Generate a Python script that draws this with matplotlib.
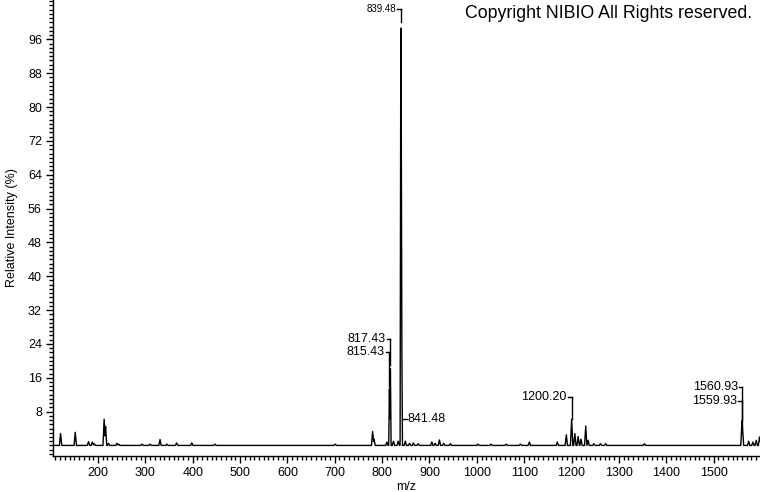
import numpy as np
import matplotlib
matplotlib.use("Agg")
import matplotlib.pyplot as plt
from matplotlib.ticker import MultipleLocator, FixedLocator

plt.rcParams['font.family'] = ['Liberation Sans', 'DejaVu Sans']

# peak list: m/z and relative intensity (%)
peak_mz = [121, 152, 180, 188, 192, 213, 216, 222, 240, 244, 293, 310, 331, 345,
           366, 398, 447, 701, 780, 783, 810, 815.43, 817.43, 824, 834, 839.48,
           840.48, 841.48, 849, 858, 866, 876, 905, 912, 921, 930, 944, 1002,
           1030, 1062, 1092, 1111, 1170, 1189, 1200.20, 1207, 1214, 1220, 1230,
           1235, 1247, 1261, 1272, 1354, 1559.93, 1560.93, 1574, 1583, 1590, 1597]
peak_int = [2.8, 3.1, 0.9, 0.8, 0.4, 6.2, 4.5, 0.5, 0.5, 0.3, 0.3, 0.3, 1.4, 0.3,
            0.6, 0.6, 0.3, 0.3, 3.3, 1.5, 0.8, 14, 19, 1.0, 1.0, 100,
            76, 27, 1.0, 0.5, 0.6, 0.4, 0.8, 0.5, 1.3, 0.5, 0.4, 0.3,
            0.3, 0.3, 0.3, 0.8, 0.8, 2.5, 6.3, 2.8, 2.1, 1.5, 4.6,
            1.2, 0.4, 0.4, 0.4, 0.4, 6.0, 4.5, 1.0, 0.8, 1.2, 2.0]

# labelled peaks: m/z, label text, label height, side of the label
label_mz = [839.48, 817.43, 815.43, 841.48, 1200.20, 1560.93, 1559.93]
label_txt = ['839.48', '817.43', '815.43', '841.48', '1200.20', '1560.93', '1559.93']
label_y = [103.2, 25.2, 22.1, 6.2, 11.5, 13.9, 10.5]
label_side = ['left', 'left', 'left', 'right', 'left', 'left', 'left']

# profile drawn as narrow triangles around each peak
grid = np.arange(105, 1600, 0.25)
prof = np.zeros_like(grid)
for m, h in zip(peak_mz, peak_int):
    w = 1.5 if h > 10 else 2.5
    prof = np.maximum(prof, h * np.clip(1 - np.abs(grid - m) / w, 0, None))

fig = plt.figure(figsize=(7.6, 4.92), dpi=100)
ax = fig.add_axes([53 / 760, 36 / 492, 707 / 760, 456 / 492])
ax.plot(grid, prof, color='black', lw=1.0)

ax.set_xlim(105, 1598)
ax.set_ylim(-2.5, 105.3)
for s in ['top', 'right']:
    ax.spines[s].set_visible(False)
ax.spines['left'].set_linewidth(1.0)
ax.spines['bottom'].set_linewidth(1.0)

ax.xaxis.set_major_locator(MultipleLocator(100))
ax.xaxis.set_minor_locator(MultipleLocator(10))
ax.yaxis.set_major_locator(FixedLocator(np.arange(8, 100, 8)))
ax.yaxis.set_minor_locator(MultipleLocator(1))
ax.tick_params(which='major', direction='out', length=5, width=1, labelsize=9, pad=3)
ax.tick_params(which='minor', direction='out', length=3, width=1)

ax.set_xlabel('m/z', fontsize=9, labelpad=1)
ax.set_ylabel('Relative Intensity (%)', fontsize=9, labelpad=7)

hi = dict(zip(peak_mz, peak_int))
for m, t, ly, side in zip(label_mz, label_txt, label_y, label_side):
    fs = 7 if m == 839.48 else 9
    if side == 'left':
        if ly > hi[m]:
            ax.plot([m, m], [hi[m], ly], color='black', lw=1.0)
        ax.plot([m, m - 8], [ly, ly], color='black', lw=1.0)
        ax.text(m - 10, ly, t, ha='right', va='center', fontsize=fs)
    else:
        ax.plot([m + 2, m + 11], [ly, ly], color='black', lw=1.0)
        ax.text(m + 13, ly, t, ha='left', va='center', fontsize=fs)

fig.text(752 / 760, 1 - 14 / 492, 'Copyright NIBIO All Rights reserved.',
         ha='right', va='center', fontsize=12.8)

fig.savefig('out.png', dpi=100)
